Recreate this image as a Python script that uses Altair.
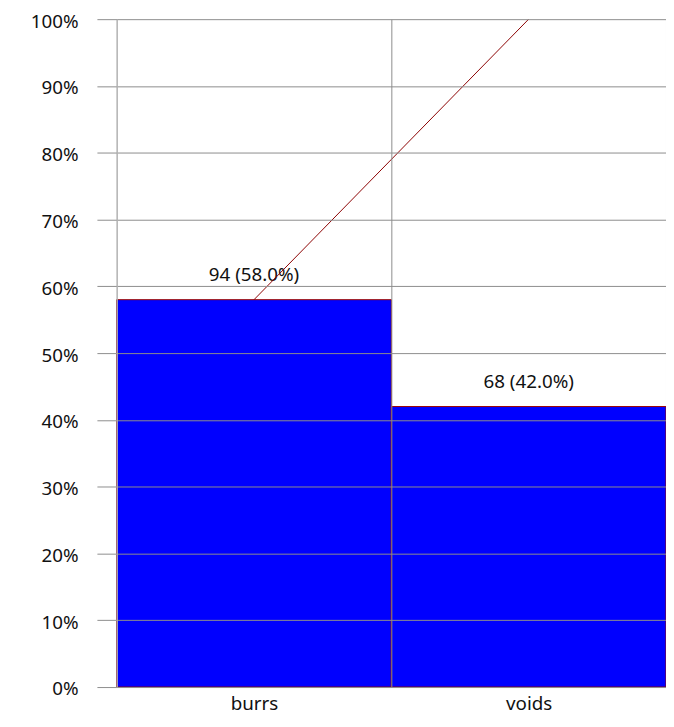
import altair as alt
import pandas as pd

categories = ["burrs", "voids"]
counts = [94, 68]
percents = [58.0, 42.0]
cumulative = [58.0, 100.0]
labels = ["94 (58.0%)", "68 (42.0%)"]

df = pd.DataFrame({
    "cat": categories,
    "count": counts,
    "pct": [p / 100 for p in percents],
    "cum": [c / 100 for c in cumulative],
    "label": labels,
})

FONT = "Noto Sans"
FS = 19

x = alt.X("cat:N", sort=categories, title=None,
          scale=alt.Scale(paddingInner=0, paddingOuter=0),
          axis=alt.Axis(labelAngle=0, ticks=False, tickBand="extent", grid=True,
                        gridColor="#8c8c8c", gridWidth=1, domain=False,
                        labelFont=FONT, labelFontSize=FS, labelColor="#111",
                        labelPadding=8, zindex=1))
y = alt.Y("pct:Q", title=None,
          scale=alt.Scale(domain=[0, 1], nice=False),
          axis=alt.Axis(format=".0%", values=[i / 10 for i in range(11)],
                        grid=True, gridColor="#8c8c8c", gridWidth=1,
                        tickSize=20, tickColor="#8c8c8c", tickWidth=1,
                        domainColor="#bdbdbd", domainWidth=1,
                        labelFont=FONT, labelFontSize=FS, labelColor="#111",
                        labelPadding=19, labelOffset=2, zindex=1))

base = alt.Chart(df)

bars = base.mark_bar(color="#0000ff", stroke="#9a0000", strokeWidth=1).encode(x=x, y=y)

text = base.mark_text(baseline="alphabetic", dy=-19, font=FONT, fontSize=FS, color="#111").encode(
    x=alt.X("cat:N", sort=categories), y=alt.Y("pct:Q"), text="label:N")

line = base.mark_line(color="#8b0000", strokeWidth=1).encode(
    x=alt.X("cat:N", sort=categories), y=alt.Y("cum:Q"))

chart = alt.layer(bars, text, line).properties(
    width=556, height=676,
    autosize=alt.AutoSizeParams(type="none"),
    padding={"left": 110, "top": 7, "right": 0, "bottom": 26},
).configure_view(stroke=None)

chart.save("out.html", embed_options={"renderer": "svg", "actions": False})
